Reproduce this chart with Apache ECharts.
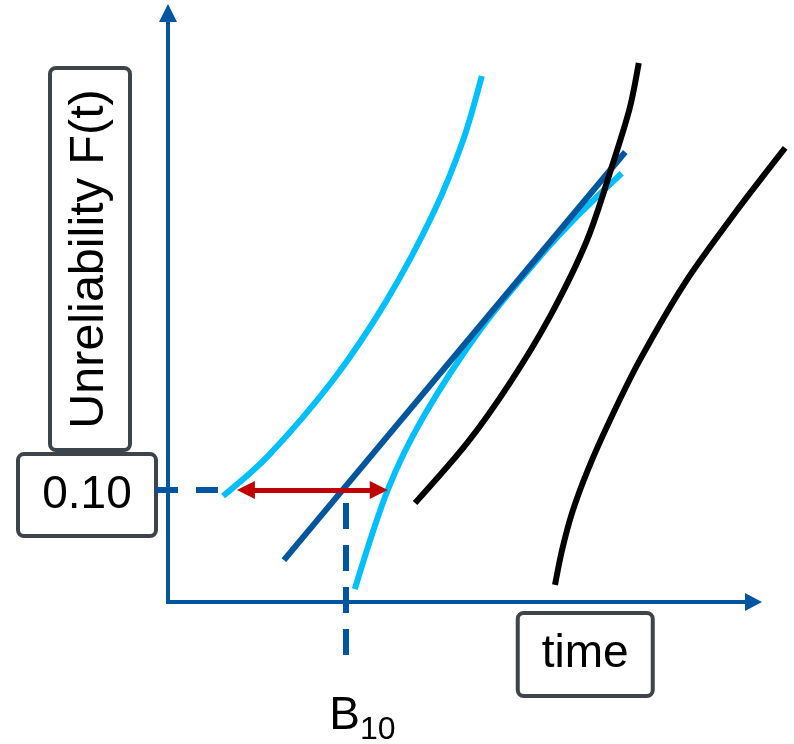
<!DOCTYPE html>
<html><head><meta charset="utf-8">
<script src="https://cdn.jsdelivr.net/npm/echarts@6/dist/echarts.min.js"></script>
<style>html,body{margin:0;padding:0;background:#fff}#c{width:794px;height:744px}</style>
</head><body><div id="c"></div>
<script>
// ---- data (time units 0..100, unreliability units 0..100, schematic) ----
const lightLeft  = [[9.4,18.0],[16.9,24.6],[28.2,37.7],[37.4,51.3],[45.3,66.0],[50.4,78.4],[53.6,89.3]];
const lightRight = [[31.9,2.2],[37.6,19.2],[43.6,31.4],[53.3,46.2],[63.5,58.6],[70.4,66.0],[77.5,72.8]];
const fitLine    = [[19.8,7.1],[78.1,76.4]];
const blackLeft  = [[42.2,16.8],[51.1,27.0],[58.4,37.2],[65.2,48.4],[71.6,61.5],[76.0,74.5],[78.9,84.0],[80.4,91.5]];
const blackRight = [[66.1,2.9],[67.3,8.8],[69.0,15.1],[71.7,22.4],[75.5,30.9],[80.6,41.1],[88.3,54.2],[96.8,66.0],[105.4,77.1]];
const levelF = 19.0;          // F(t) = 0.10 level
const b10Time = 30.4;         // B10 life
const arrowSpan = [13.3, 36.0];
const hDash = [[-2.05, levelF],[8.9, levelF]];
const vDash = [[b10Time, 16.8],[b10Time, -9.0]];
const yTickLabel = '0.10';
const xTickLabel = ['B','10'];
const xName = 'time';
const yName = 'Unreliability F(t)';

const FONT = '"Liberation Sans", Arial, sans-serif';
const AX = '#0055A0';
const BOX = {borderColor:'#3E444B', borderWidth:4, borderRadius:4, backgroundColor:'#fff',
             color:'#000', fontFamily:FONT, align:'center'};

// unclipped path drawn through the cartesian scales
function pathSeries(points, style, smooth) {
  return {
    type:'custom', clip:false, data:points, encode:{x:0, y:1},
    renderItem:(params, api) => {
      if (params.dataIndex !== 0) return null;
      return {type:'polyline', shape:{points:points.map(p => api.coord(p)), smooth:smooth || 0},
              style:Object.assign({fill:null, lineCap:'butt'}, style)};
    }
  };
}

const chart = echarts.init(document.getElementById('c'), null, {renderer:'canvas'});
chart.setOption({
  animation:false,
  backgroundColor:'#fff',
  grid:{left:168, right:40.5, top:13, bottom:142, containLabel:false, outerBoundsMode:'none'},
  xAxis:{
    type:'value', min:0, max:100,
    axisLine:{show:true, symbol:['none','triangle'], symbolSize:[18,17],
      lineStyle:{color:AX, width:4, cap:'square'}},
    axisTick:{show:false}, splitLine:{show:false},
    axisLabel:{customValues:[b10Time], margin:91, padding:[0,0,0,33],
      formatter:()=>'{b|'+xTickLabel[0]+'}{s|'+xTickLabel[1]+'}',
      rich:{b:{fontSize:46, lineHeight:46, fontFamily:FONT, color:'#000', verticalAlign:'top'},
            s:{fontSize:32, lineHeight:32, fontFamily:FONT, color:'#000', verticalAlign:'top', padding:[21,0,0,0]}}},
    name:'{sp| }{box|'+xName+'}', nameLocation:'middle', nameGap:13, nameMoveOverlap:false,
    nameTextStyle:{rich:{sp:{width:249, fontSize:10},
      box:Object.assign({}, BOX, {width:131, height:79, lineHeight:79, fontSize:46})}}
  },
  yAxis:{
    type:'value', min:0, max:100,
    axisLine:{show:true, symbol:['none','triangle'], symbolSize:[18,18],
      lineStyle:{color:AX, width:4, cap:'square'}},
    axisTick:{show:false}, splitLine:{show:false},
    axisLabel:{customValues:[levelF], margin:14, padding:[10,0,0,0], formatter:()=>'{box|'+yTickLabel+'}',
      rich:{box:Object.assign({}, BOX, {width:134, height:78, lineHeight:78, fontSize:46})}},
    name:'{sp| }{box|'+yName+'}', nameLocation:'middle', nameGap:40, nameRotate:90, nameMoveOverlap:false,
    nameTextStyle:{rich:{sp:{width:97, fontSize:10},
      box:Object.assign({}, BOX, {width:378, height:76, lineHeight:76, fontSize:48.5})}}
  },
  series:[
    {type:'line', data:lightLeft, smooth:0.3, symbol:'none', lineStyle:{color:'#00BFFF', width:6}},
    {type:'line', data:lightRight, smooth:0.3, symbol:'none', lineStyle:{color:'#00BFFF', width:6}},
    {type:'line', data:fitLine, symbol:'none', lineStyle:{color:'#00569C', width:6}},
    {type:'line', data:blackLeft, smooth:0.3, symbol:'none', lineStyle:{color:'#000', width:6}},
    pathSeries(blackRight, {stroke:'#000', lineWidth:6}, 0.3),
    pathSeries(hDash, {stroke:AX, lineWidth:6, lineDash:[22,18]}),
    pathSeries(vDash, {stroke:AX, lineWidth:6, lineDash:[26,16]}),
    {type:'line', data:[], symbol:'none',
      markLine:{silent:true, symbol:['triangle','triangle'], symbolSize:18,
        lineStyle:{color:'#C00000', width:5, type:'solid'}, label:{show:false},
        data:[[{coord:[arrowSpan[0], levelF]},{coord:[arrowSpan[1], levelF]}]]}}
  ]
});
</script></body></html>
